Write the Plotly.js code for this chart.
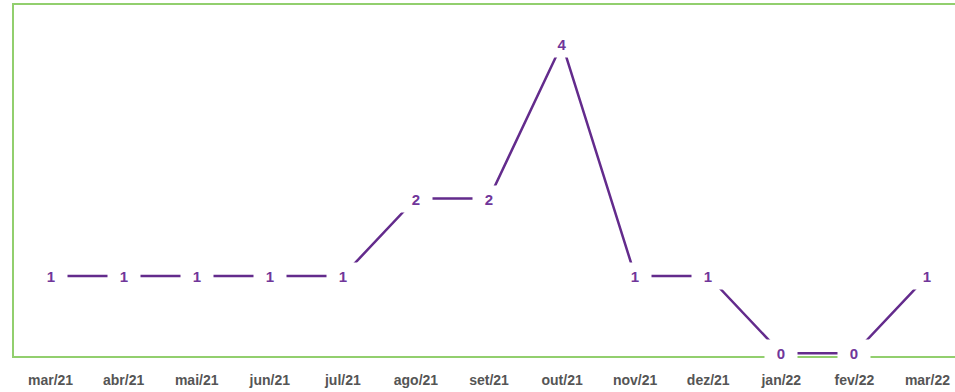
<!DOCTYPE html>
<html>
<head>
<meta charset="utf-8">
<script src="https://cdn.plot.ly/plotly-3.0.1.min.js"></script>
<style>
html,body{margin:0;padding:0;overflow:hidden;background:#fff;}
#chart{width:975px;height:392px;}
</style>
</head>
<body>
<div id="chart"></div>
<script>
const months = ["mar/21","abr/21","mai/21","jun/21","jul/21","ago/21","set/21","out/21","nov/21","dez/21","jan/22","fev/22","mar/22"];
const values = [1,1,1,1,1,2,2,4,1,1,0,0,1];

const idx = months.map((m,i)=>i);

const trace = {
  x: idx,
  y: values,
  mode: 'lines',
  line: {color:'#632b8c', width:2.5},
  hoverinfo: 'skip',
  showlegend: false
};

const annotations = values.map((v,i)=>({
  x: i, y: v, xref:'x', yref:'y',
  text: String(v),
  showarrow: false,
  bgcolor: '#ffffff',
  width: 26, height: 20,
  borderpad: 3,
  font: {family:'Liberation Sans, Arial, sans-serif', size:15, color:'#70369a', weight:'bold'}
}));

const layout = {
  width: 975, height: 392,
  margin: {l:14, r:11, t:5, b:36},
  paper_bgcolor:'#ffffff', plot_bgcolor:'#ffffff',
  xaxis: {
    range: [-0.5, 12.5],
    tickmode: 'array', tickvals: idx, ticktext: months,
    showgrid:false, zeroline:false,
    showline:true, linecolor:'#92cf6e', linewidth:2, mirror:true,
    layer:'below traces',
    ticks:'', ticklabelstandoff: 10,
    tickfont: {family:'Liberation Sans Narrow, Arial Narrow, Liberation Sans, sans-serif', size:14, color:'#555555', weight:'bold'},
    fixedrange:true
  },
  yaxis: {
    range: [-0.035, 4.5],
    showgrid:false, zeroline:false, showticklabels:false,
    showline:true, linecolor:'#92cf6e', linewidth:2, mirror:true,
    layer:'below traces',
    ticks:'', fixedrange:true
  },
  annotations: annotations
};

Plotly.newPlot('chart', [trace], layout, {displayModeBar:false, staticPlot:true});
</script>
</body>
</html>
